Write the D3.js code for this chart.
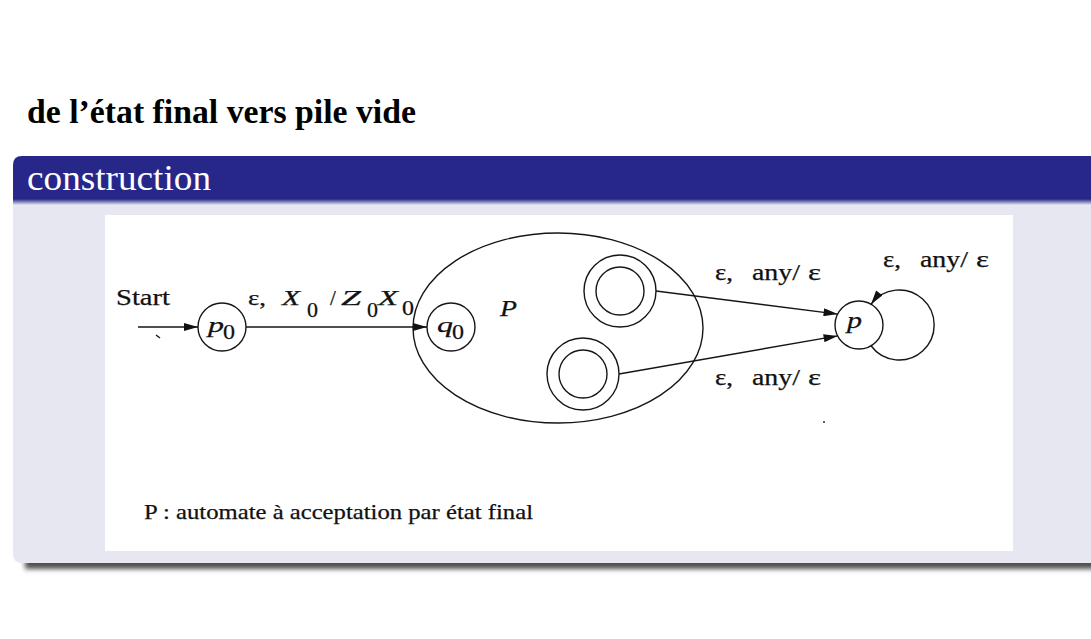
<!DOCTYPE html>
<html lang="fr">
<head>
<meta charset="UTF-8">
<title>de l'état final vers pile vide</title>
<script src="https://d3js.org/d3.v7.min.js"></script>
<style>
  body { margin: 0; background: #fff; }
  text { font-family: "Liberation Serif", "Times New Roman", serif; }
</style>
</head>
<body>
<svg id="slide" width="1091" height="639"></svg>
<script>
// figure units: origin at the top-left corner of the scanned picture
var states = [
  {id: 'p0', x: 117, y: 112, r: 24, name: 'p', sub: '0'},
  {id: 'q0', x: 346, y: 112, r: 24, name: 'q', sub: '0'},
  {id: 'f1', x: 515, y: 76,  r: 36, inner: 24},
  {id: 'f2', x: 478, y: 159, r: 36, inner: 24},
  {id: 'p',  x: 754, y: 110, r: 24, name: 'p'}
];
var automaton = {cx: 453, cy: 113, rx: 145, ry: 95, name: 'P'};
// transitions : angle (deg) where the line leaves / reaches each circle
var edges = [
  {from: 'p0', to: 'q0', a0: 0, a1: 180},
  {from: 'f1', to: 'p',  a0: 0, a1: 207},
  {from: 'f2', to: 'p',  a0: 0, a1: 153}
];
var startEdge = {x0: 33, to: 'p0'};
var loop = {on: 'p', a0: 60, a1: -60, r: 35};

var startLabel = {text: 'Start', x: 11, y: 90, w: 54};
var pushLabel = [
  {t: 'ε,', x: 143, y: 90,  w: 18},
  {t: 'X',  x: 177, y: 90,  w: 18, it: true},
  {t: '0',  x: 202, y: 102, w: 11},
  {t: '/',  x: 225, y: 90},
  {t: 'Z',  x: 236, y: 90,  w: 20, it: true},
  {t: '0',  x: 262, y: 102, w: 11},
  {t: 'X',  x: 273, y: 90,  w: 20, it: true},
  {t: '0',  x: 297, y: 100, w: 12}
];
var popLabelPos = [{x: 610, y: 65}, {x: 610, y: 170}, {x: 778, y: 52}];
var popLabelParts = [{t: 'ε,', dx: 0, w: 18}, {t: 'any/', dx: 37, w: 48}, {t: 'ε', dx: 93, w: 13}];
var caption = {text: 'P : automate à acceptation par état final', x: 39, y: 304, w: 389};
var specks = [{x: 53, y: 121}, {x: 719, y: 207}];

var svg = d3.select('#slide');
var defs = svg.append('defs');

var x = d3.scaleLinear().domain([0, 908]).range([105, 1013]);
var y = d3.scaleLinear().domain([0, 336]).range([215, 551]);

// ---- slide frame (beamer block) ----
var blur = defs.append('filter').attr('id', 'soft').attr('x', '-5%').attr('y', '-100%')
  .attr('width', '110%').attr('height', '300%');
blur.append('feGaussianBlur').attr('stdDeviation', 2.6);

var fade = defs.append('linearGradient').attr('id', 'fade').attr('x1', 0).attr('y1', 0).attr('x2', 0).attr('y2', 1);
fade.append('stop').attr('offset', '0%').attr('stop-color', '#27278a');
fade.append('stop').attr('offset', '100%').attr('stop-color', '#e7e7f1');

svg.append('text')
  .attr('x', 27).attr('y', 123)
  .attr('font-size', 34).attr('font-weight', 'bold')
  .attr('textLength', 389).attr('lengthAdjust', 'spacingAndGlyphs')
  .text('de l’état final vers pile vide');

svg.append('rect').attr('x', 25).attr('y', 557).attr('width', 1080).attr('height', 12)
  .attr('fill', '#505050').attr('filter', 'url(#soft)');
svg.append('path').attr('d', 'M13,200 H1091 V563 H22 Q13,563 13,554 Z').attr('fill', '#e7e7f1');
svg.append('path').attr('d', 'M13,201 V165 Q13,156 22,156 H1091 V201 Z').attr('fill', '#27278a');
svg.append('rect').attr('x', 13).attr('y', 199).attr('width', 1078).attr('height', 6).attr('fill', 'url(#fade)');

svg.append('text')
  .attr('x', 27).attr('y', 190)
  .attr('font-size', 35).attr('fill', '#fff')
  .attr('textLength', 184).attr('lengthAdjust', 'spacingAndGlyphs')
  .text('construction');

// ---- the figure ----
svg.append('rect')
  .attr('x', x(0)).attr('y', y(0))
  .attr('width', x(908) - x(0)).attr('height', y(336) - y(0))
  .attr('fill', '#fff');

defs.append('marker').attr('id', 'head')
  .attr('markerUnits', 'userSpaceOnUse')
  .attr('viewBox', '0 0 14 8').attr('refX', 14).attr('refY', 4)
  .attr('markerWidth', 15).attr('markerHeight', 8).attr('orient', 'auto')
  .append('path').attr('d', 'M0,0 L14,4 L0,8 Z').attr('fill', '#111');

var ink = '#161616';
var g = svg.append('g').attr('fill', 'none').attr('stroke', ink).attr('stroke-width', 1.4);
var byId = {};
states.forEach(function(s) { byId[s.id] = s; });
function rim(s, deg) {
  var a = deg * Math.PI / 180;
  return [x(s.x + s.r * Math.cos(a)), y(s.y + s.r * Math.sin(a))];
}

g.append('ellipse')
  .attr('cx', x(automaton.cx)).attr('cy', y(automaton.cy))
  .attr('rx', x(automaton.rx) - x(0)).attr('ry', y(automaton.ry) - y(0));

g.selectAll('circle.state').data(states).enter().append('circle')
  .attr('class', 'state')
  .attr('cx', function(d) { return x(d.x); }).attr('cy', function(d) { return y(d.y); })
  .attr('r', function(d) { return x(d.r) - x(0); });
g.selectAll('circle.inner').data(states.filter(function(d) { return d.inner; })).enter().append('circle')
  .attr('class', 'inner')
  .attr('cx', function(d) { return x(d.x); }).attr('cy', function(d) { return y(d.y); })
  .attr('r', function(d) { return x(d.inner) - x(0); });

var line = d3.line();
var tgt0 = rim(byId[startEdge.to], 180);
g.append('path').attr('d', line([[x(startEdge.x0), tgt0[1]], tgt0])).attr('marker-end', 'url(#head)');

g.selectAll('path.edge').data(edges).enter().append('path')
  .attr('class', 'edge')
  .attr('d', function(d) { return line([rim(byId[d.from], d.a0), rim(byId[d.to], d.a1)]); })
  .attr('marker-end', 'url(#head)');

var ls = byId[loop.on], p0 = rim(ls, loop.a0), p1 = rim(ls, loop.a1), lr = x(loop.r) - x(0);
g.append('path')
  .attr('d', 'M' + p0[0] + ',' + p0[1] + ' A' + lr + ',' + lr + ' 0 1 0 ' + p1[0] + ',' + p1[1])
  .attr('marker-end', 'url(#head)');

var dots = svg.append('g').attr('fill', ink);
dots.append('path').attr('d', 'M' + x(specks[0].x - 2) + ',' + y(specks[0].y - 1) + ' l4,3')
  .attr('stroke', ink).attr('stroke-width', 1.4);
dots.append('circle').attr('cx', x(specks[1].x)).attr('cy', y(specks[1].y)).attr('r', 0.9);

// ---- texts of the figure ----
var t = svg.append('g').attr('fill', '#111').attr('stroke', '#111').attr('stroke-width', 0.25);
function put(str, px, py, size, w, italic) {
  var e = t.append('text').attr('x', px).attr('y', py).attr('font-size', size).text(str);
  if (italic) e.attr('font-style', 'italic');
  if (w) e.attr('textLength', w).attr('lengthAdjust', 'spacingAndGlyphs');
  return e;
}

put(startLabel.text, x(startLabel.x), y(startLabel.y), 24, startLabel.w);
pushLabel.forEach(function(d) { put(d.t, x(d.x), y(d.y), 21, d.w, d.it); });
popLabelPos.forEach(function(pos) {
  popLabelParts.forEach(function(d) { put(d.t, x(pos.x + d.dx), y(pos.y), 23, d.w); });
});

states.filter(function(d) { return d.name; }).forEach(function(d) {
  if (d.sub) {
    put(d.name, x(d.x - 14), y(d.y + 5), 22, 16, true);
    put(d.sub, x(d.x + 1), y(d.y + 12), 22, 12);
  } else {
    put(d.name, x(d.x - 12), y(d.y + 3), 24, 15, true);
  }
});
put(automaton.name, x(395), y(101), 24, 17, true);
put(caption.text, x(caption.x), y(caption.y), 21, caption.w);
</script>
</body>
</html>
